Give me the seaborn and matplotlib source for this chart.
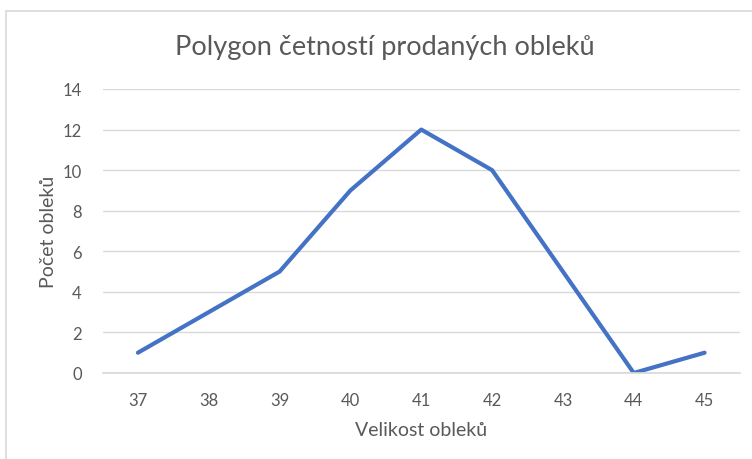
import matplotlib
matplotlib.use("Agg")
import matplotlib.pyplot as plt
import seaborn as sns
import pandas as pd
from matplotlib.patches import Rectangle

sizes = ["37", "38", "39", "40", "41", "42", "43", "44", "45"]
counts = [1, 3, 5, 9, 12, 10, 5, 0, 1]
y_ticks = [0, 2, 4, 6, 8, 10, 12, 14]

title = "Polygon četností prodaných obleků"
xlabel = "Velikost obleků"
ylabel = "Počet obleků"

sns.set_theme(style="white")
plt.rcParams["font.family"] = ["Lato", "DejaVu Sans"]

text_color = "#595959"
grid_color = "#D9D9D9"
line_color = "#4472C4"

W, H = 752, 460
fig = plt.figure(figsize=(W / 100, H / 100), dpi=100)

# chart area border (partly cropped at right/bottom)
fig.patches.append(Rectangle((6 / W, -0.05), 1.2, 1 - 12 / H + 0.05,
                             transform=fig.transFigure, fill=False,
                             edgecolor=grid_color, linewidth=1.2))

left, right, top, bottom = 102.5, 740, 90, 374
ax = fig.add_axes([left / W, 1 - bottom / H, (right - left) / W, (bottom - top) / H])

df = pd.DataFrame({"size": sizes, "count": counts})
df["pos"] = range(len(sizes))
sns.lineplot(data=df, x="pos", y="count", ax=ax, color=line_color,
             linewidth=3.0, solid_capstyle="round", solid_joinstyle="round")

ax.set_xlim(-0.5, len(sizes) - 0.5)
ax.set_ylim(0, 14)
ax.set_xticks(range(len(sizes)))
ax.set_xticklabels(sizes)
ax.set_yticks(y_ticks)
ax.set_yticklabels([str(v) for v in y_ticks])
ax.tick_params(axis="both", length=0, labelsize=12, colors=text_color)
ax.tick_params(axis="x", pad=14)
ax.tick_params(axis="y", pad=15)
ax.yaxis.grid(True, color=grid_color, linewidth=1)
ax.xaxis.grid(False)
ax.set_axisbelow(True)
for s in ax.spines.values():
    s.set_visible(False)
ax.spines["bottom"].set_visible(True)
ax.spines["bottom"].set_color(grid_color)

ax.set_xlabel(xlabel, fontsize=14, color=text_color, labelpad=9)
ax.set_ylabel(ylabel, fontsize=14, color=text_color, labelpad=4)

fig.text((W / 2 + 9) / W, 1 - 48 / H, title, ha="center", va="center",
         fontsize=19.5, color=text_color)

fig.savefig("out.png", dpi=100, facecolor="white")
